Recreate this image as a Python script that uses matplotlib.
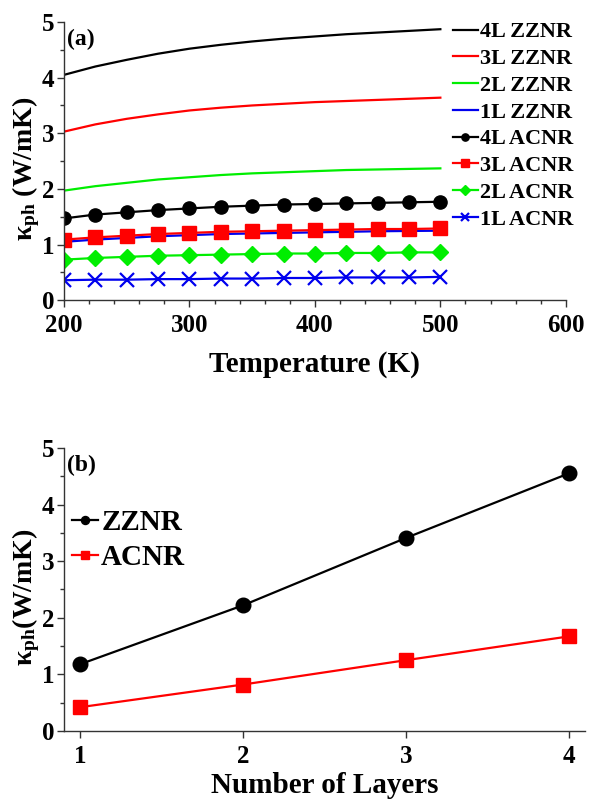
import matplotlib
matplotlib.use("Agg")
import matplotlib.pyplot as plt
from matplotlib.ticker import MultipleLocator

plt.rcParams['font.family'] = ['Liberation Serif', 'DejaVu Serif']
plt.rcParams['font.weight'] = 'bold'
plt.rcParams['mathtext.fontset'] = 'custom'
plt.rcParams['mathtext.rm'] = 'Liberation Serif:bold'
plt.rcParams['mathtext.bf'] = 'Liberation Serif:bold'
plt.rcParams['mathtext.it'] = 'Liberation Serif:bold:italic'

# panel (a): temperature dependence (W/mK)
T = [200, 225, 250, 275, 300, 325, 350, 375, 400, 425, 450, 475, 500]
zz_4L = [4.05, 4.20, 4.32, 4.43, 4.52, 4.59, 4.65, 4.70, 4.74, 4.78, 4.81, 4.84, 4.87]
zz_3L = [3.03, 3.16, 3.26, 3.34, 3.41, 3.46, 3.50, 3.53, 3.56, 3.58, 3.60, 3.62, 3.64]
zz_2L = [1.97, 2.05, 2.11, 2.17, 2.21, 2.25, 2.28, 2.30, 2.32, 2.34, 2.35, 2.36, 2.37]
zz_1L = [1.05, 1.09, 1.12, 1.15, 1.17, 1.19, 1.20, 1.21, 1.22, 1.23, 1.24, 1.245, 1.25]

ac_4L = [1.47, 1.54, 1.58, 1.62, 1.65, 1.68, 1.70, 1.72, 1.73, 1.74, 1.75, 1.76, 1.77]
ac_3L = [1.09, 1.13, 1.16, 1.19, 1.21, 1.23, 1.24, 1.25, 1.26, 1.27, 1.28, 1.28, 1.29]
ac_2L = [0.73, 0.76, 0.78, 0.80, 0.81, 0.82, 0.83, 0.84, 0.84, 0.85, 0.85, 0.86, 0.86]
ac_1L = [0.36, 0.37, 0.37, 0.38, 0.38, 0.39, 0.39, 0.40, 0.40, 0.41, 0.41, 0.41, 0.42]

# panel (b): layer dependence
layers = [1, 2, 3, 4]
zz_layers = [1.18, 2.22, 3.41, 4.55]
ac_layers = [0.42, 0.82, 1.25, 1.67]

ylab = 'κ$_{\\mathrm{ph}}$'

fig = plt.figure(figsize=(5.9, 8.05), dpi=100)
ax1 = fig.add_axes([0.1085, 0.627, 0.8505, 0.3457])
ax2 = fig.add_axes([0.1085, 0.092, 0.883, 0.3515])

lw = 1.6
ax1.plot(T, zz_4L, color='black', lw=lw, label='4L ZZNR')
ax1.plot(T, zz_3L, color='#ff0000', lw=lw, label='3L ZZNR')
ax1.plot(T, zz_2L, color='#00ee00', lw=lw, label='2L ZZNR')
ax1.plot(T, zz_1L, color='#0000ee', lw=lw, label='1L ZZNR')
ax1.plot(T, ac_4L, color='black', lw=lw, marker='o', ms=9.5, label='4L ACNR')
ax1.plot(T, ac_3L, color='#ff0000', lw=lw, marker='s', ms=9.5, label='3L ACNR')
ax1.plot(T, ac_2L, color='#00ee00', lw=lw, marker='D', ms=8.5, label='2L ACNR')
ax1.plot(T, ac_1L, color='#0000ee', lw=lw, marker='x', ms=10, mew=1.6, label='1L ACNR')

ax1.set_xlim(200, 600)
ax1.set_ylim(0, 5)
ax1.xaxis.set_major_locator(MultipleLocator(100))
ax1.xaxis.set_minor_locator(MultipleLocator(20))
ax1.yaxis.set_major_locator(MultipleLocator(1))
ax1.yaxis.set_minor_locator(MultipleLocator(0.5))
ax1.set_xlabel('Temperature (K)', fontsize=21, fontweight='bold', labelpad=10)
ax1.set_ylabel(ylab + ' (W/mK)', fontsize=20, fontweight='bold')
ax1.yaxis.set_label_coords(-0.044, 0.472)
ax1.text(0.005, 0.975, '(a)', transform=ax1.transAxes, fontsize=17,
         fontweight='bold', va='top', ha='left')
ax1.legend(loc='upper left', bbox_to_anchor=(0.768, 0.973), bbox_transform=fig.transFigure,
           frameon=False, fontsize=16, handlelength=1.1, handletextpad=0.1,
           labelspacing=0.28, markerscale=0.55, borderaxespad=0, borderpad=0)

ax2.plot(layers, zz_layers, color='black', lw=lw, marker='o', ms=10.5, label='ZZNR')
ax2.plot(layers, ac_layers, color='#ff0000', lw=lw, marker='s', ms=10.5, label='ACNR')
ax2.set_xlim(0.9, 4.1)
ax2.set_ylim(0, 5)
ax2.xaxis.set_major_locator(MultipleLocator(1))
ax2.yaxis.set_major_locator(MultipleLocator(1))
ax2.yaxis.set_minor_locator(MultipleLocator(0.5))
ax2.set_xlabel('Number of Layers', fontsize=21, fontweight='bold', labelpad=3)
ax2.set_ylabel(ylab + '(W/mK)', fontsize=20, fontweight='bold')
ax2.yaxis.set_label_coords(-0.042, 0.472)
ax2.text(0.005, 0.975, '(b)', transform=ax2.transAxes, fontsize=17,
         fontweight='bold', va='top', ha='left')
ax2.legend(loc='upper left', bbox_to_anchor=(0.122, 0.368), bbox_transform=fig.transFigure,
           frameon=False, fontsize=21, handlelength=0.9, handletextpad=0.1,
           labelspacing=0.28, markerscale=0.55, borderaxespad=0, borderpad=0)

for ax in (ax1, ax2):
    ax.spines['top'].set_visible(False)
    ax.spines['right'].set_visible(False)
    for s in ('left', 'bottom'):
        ax.spines[s].set_color('#333333')
        ax.spines[s].set_linewidth(1.0)
    ax.tick_params(which='major', direction='out', length=5, width=1, labelsize=18,
                   color='#333333', pad=2)
    ax.tick_params(which='minor', direction='out', length=3, width=1, color='#333333')
    ax.tick_params(axis='x', which='major', pad=5)
    for lab in ax.get_xticklabels() + ax.get_yticklabels():
        lab.set_fontweight('bold')

fig.savefig('out.png', dpi=100)
